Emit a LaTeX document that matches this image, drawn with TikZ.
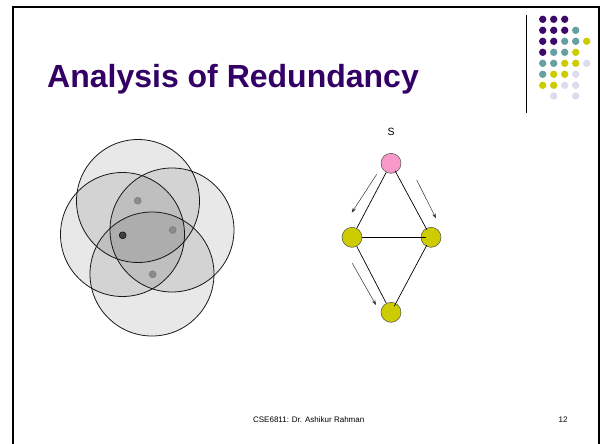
\documentclass[tikz,border=0pt]{standalone}
\usepackage{fontspec}
\setmainfont{Liberation Sans}
\usetikzlibrary{arrows.meta}
\definecolor{titlepurple}{HTML}{330066}
\definecolor{dotP}{HTML}{3D0A6B}
\definecolor{dotT}{HTML}{66A0A0}
\definecolor{dotY}{HTML}{CCCC00}
\definecolor{dotL}{HTML}{DCDCEE}
\definecolor{npink}{HTML}{F79AC9}
\definecolor{nolive}{HTML}{CCCC00}
\tikzset{
  cover/.style={draw=black!90, line width=0.8pt, fill=black, fill opacity=0.09},
  sensor/.style={circle, inner sep=0pt, minimum size=7pt, draw=black!55, fill=black!45, line width=0.4pt},
  master/.style={circle, inner sep=0pt, minimum size=7pt, draw=black, fill=black!75, line width=0.4pt},
  gnode/.style={circle, inner sep=0pt, minimum size=20pt, draw=black!70, line width=0.5pt},
  edge/.style={draw=black, line width=0.7pt},
  flow/.style={draw=black!80, line width=0.5pt, -{Stealth[length=5pt,width=3.5pt]}},
  deco/.style={circle, inner sep=0pt, minimum size=7.4pt},
}
\begin{document}
\begin{tikzpicture}[x=1pt,y=-1pt]
\useasboundingbox (0,0) rectangle (602,444);
\fill[white] (0,0) rectangle (602,444);
% slide frame
\draw[line width=1.6pt] (13,460) -- (13,7) -- (599,7) -- (599,460);
% title
\node[anchor=base west, inner sep=0pt, text=titlepurple, font=\fontsize{32}{35}\selectfont\bfseries] (title) at (47,87.3) {Analysis of Redundancy};
% decorative rule and dots
\draw[line width=0.8pt] (526,15) -- (526,113);
\foreach \r/\row in {0/{P,P,P}, 1/{P,P,P,T}, 2/{P,P,T,T,Y}, 3/{P,T,T,Y}, 4/{T,T,Y,Y,L}, 5/{T,Y,Y,L}, 6/{Y,Y,L,L}}{
  \foreach \c [count=\i from 0] in \row {
    \node[deco, fill=dot\c] (d-\r-\i) at ({542.7+11*\i},{19.3+11*\r}) {};
  }
}
\node[deco, fill=dotL] (d-7-1) at (553.7,96) {};
\node[deco, fill=dotL] (d-7-3) at (575.7,96) {};
% coverage circles
\draw[cover] (138,201) circle (61.5);
\draw[cover] (122.5,234.5) circle (62);
\draw[cover] (172,230) circle (62);
\draw[cover] (152,274) circle (62);
\node[sensor] (s1) at (137.7,200.7) {};
\node[master] (s2) at (122.7,235.3) {};
\node[sensor] (s3) at (172.7,230) {};
\node[sensor] (s4) at (152.7,274.3) {};
% graph
\node[font=\fontsize{10.5}{12}\selectfont] (slab) at (391,132) {S};
\node[gnode, fill=npink] (src) at (391,163.3) {};
\node[gnode, fill=nolive] (lft) at (352,237.3) {};
\node[gnode, fill=nolive] (rgt) at (431,237.3) {};
\node[gnode, fill=nolive] (bot) at (391,312.3) {};
\draw[edge] (src) -- (lft);
\draw[edge] (lft) -- (bot);
\draw[edge, shorten <=8.5pt, shorten >=8.5pt] (src.center) -- (rgt.center);
\draw[edge, shorten >=5pt] (lft) -- (rgt.center);
\draw[edge, shorten <=9pt, shorten >=7pt] (rgt.center) -- (bot.center);
% flow arrows
\coordinate (a1s) at (376.7,174.3); \coordinate (a1e) at (351.7,212.7);
\coordinate (a2s) at (416.7,180);   \coordinate (a2e) at (436,218.3);
\coordinate (a3s) at (352.3,263.3); \coordinate (a3e) at (376,305);
\draw[flow] (a1s) -- (a1e);
\draw[flow] (a2s) -- (a2e);
\draw[flow] (a3s) -- (a3e);
% footer
\node[anchor=base, inner sep=0pt, font=\fontsize{8}{9}\selectfont] (foot) at (308.7,422.7) {CSE6811: Dr. Ashikur Rahman};
\node[anchor=base, inner sep=0pt, font=\fontsize{8}{9}\selectfont] (pg) at (563,422.7) {12};
\end{tikzpicture}
\end{document}
